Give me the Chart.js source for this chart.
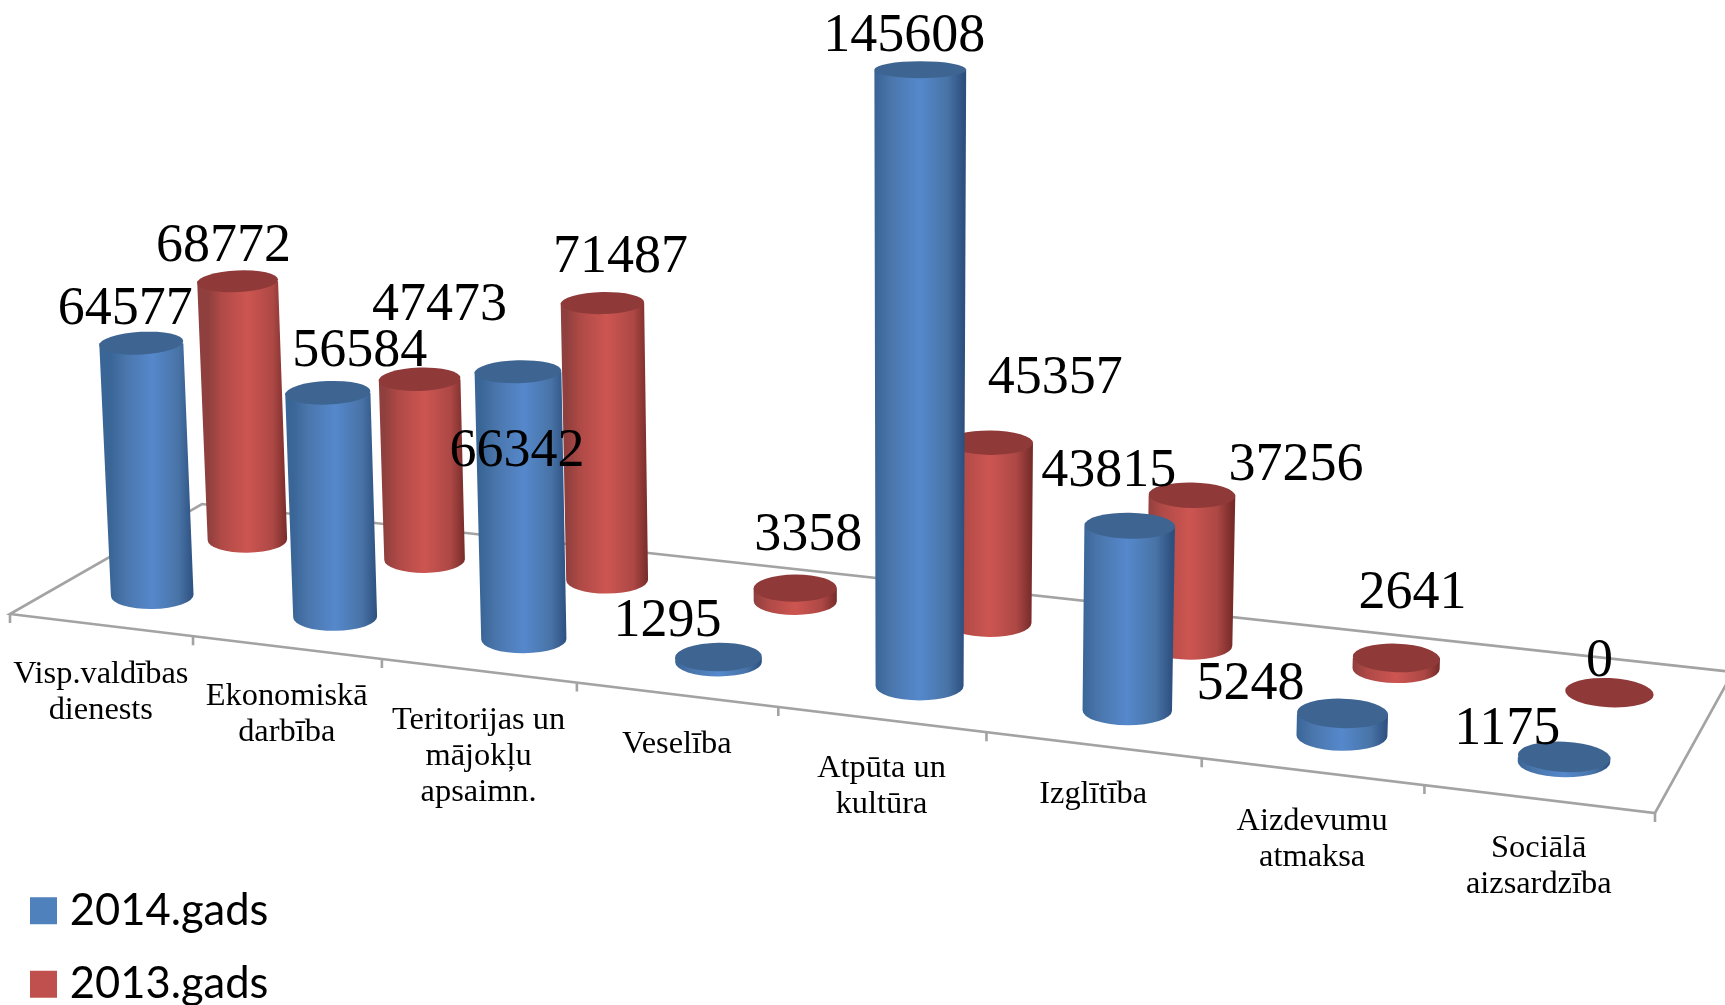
<!DOCTYPE html>
<html>
<head>
<meta charset="utf-8">
<title>Budžets</title>
<script src="https://cdn.jsdelivr.net/npm/chart.js@4"></script>
<style>
  html, body { margin: 0; padding: 0; background: #fff; overflow: hidden; }
  canvas { display: block; }
</style>
</head>
<body>
<canvas id="chart" width="1725" height="1005"></canvas>
<script>
// DATA
const categories = [
  ["Visp.valdības", "dienests"],
  ["Ekonomiskā", "darbība"],
  ["Teritorijas un", "mājokļu", "apsaimn."],
  ["Veselība"],
  ["Atpūta un", "kultūra"],
  ["Izglītība"],
  ["Aizdevumu", "atmaksa"],
  ["Sociālā", "aizsardzība"],
];
const values2014 = [64577, 56584, 66342, 1295, 145608, 43815, 5248, 1175];
const values2013 = [68772, 47473, 71487, 3358, 45357, 37256, 2641, 0];

// LOOK OF THE 3D FLOOR AND THE CYLINDERS
const floorCorners = [[10, 614], [1655, 813], [1733, 672], [202, 504]];
const seriesDepth = [0.25, 0.75];
const seriesShift = [2, 4];
const heightSpan = 625;
const vanishX = 900;
const leanPerPx = 5.8e-5;
const legendDrop = 31;
const shades = [
  { edgeL: "#3a6597", softL: "#4a76ac", mid: "#5588cc", softR: "#4873a6", edgeR: "#2d5080", cap: "#3e6592" },
  { edgeL: "#8f3f3d", softL: "#b04a47", mid: "#cd5551", softR: "#ad4845", edgeR: "#772c2a", cap: "#8f3a39" },
];

// HAND PLACED VALUE LABELS, [dx, dy] FROM THE TOP OF EACH CYLINDER
const labelShift = [
  [[-16, -8], [32, -15], [-1, 106], [-51, -7], [-16, -10], [-21, -27], [-92, 0], [-57, 2]],
  [[-14, -9], [20, -48], [18, -20], [13, -25], [65, -37], [104, -2], [16, -36], [-10, -2]],
];

// FLAT CHART SPACE (u, v) TO THE SLANTED FLOOR ON SCREEN
const floor = (() => {
  const [[x0, y0], [x1, y1], [x2, y2], [x3, y3]] = floorCorners;
  const dx1 = x1 - x2, dx2 = x3 - x2, sx = x0 - x1 + x2 - x3;
  const dy1 = y1 - y2, dy2 = y3 - y2, sy = y0 - y1 + y2 - y3;
  const det = dx1 * dy2 - dx2 * dy1;
  const g = (sx * dy2 - dx2 * sy) / det;
  const h = (dx1 * sy - sx * dy1) / det;
  return (u, v) => {
    const w = g * u + h * v + 1;
    return {
      x: ((x1 - x0 + g * x1) * u + (x3 - x0 + h * x3) * v + x0) / w,
      y: ((y1 - y0 + g * y1) * u + (y3 - y0 + h * y3) * v + y0) / w,
      near: 1 / w,
    };
  };
})();

// WORK OUT THE SCREEN SHAPE OF A CYLINDER FROM ITS BAR ELEMENT
function cylinder(chart, el, datasetIndex) {
  const area = chart.chartArea;
  const foot = floor((el.x - area.left) / area.width, seriesDepth[datasetIndex]);
  const flat = ((el.base - el.y) / area.height) * heightSpan * foot.near;
  // TALL BARS COME A LITTLE NEARER THE CAMERA
  const h = flat * (1 + flat * 5e-5);
  const bx = foot.x + seriesShift[datasetIndex];
  const rx = (el.width / 2) * foot.near;
  const ry = rx * 0.33;
  return {
    bx, by: foot.y, rx, ry,
    tx: bx + (bx - vanishX) * h * leanPerPx,
    ty: foot.y - h,
    trx: rx * (1 + h * 7e-5),
    try_: ry * (1 - h * 6.7e-4),
    tilt: ((bx - vanishX) * 0.004 * Math.PI) / 180,
    h,
  };
}

const cylinderPlugin = {
  id: "cylinders",
  // THE LEGEND SITS AT THE BOTTOM OF THE AREA, PUSH IT DOWN TO ITS PLACE
  afterLayout(chart) {
    chart.legend.bottom += legendDrop;
  },
  beforeDatasetsDraw(chart) {
    const ctx = chart.ctx;
    const area = chart.chartArea;
    const cats = chart.data.labels.length;
    ctx.save();
    ctx.strokeStyle = "#a3a3a3";
    ctx.lineWidth = 2.6;
    ctx.beginPath();
    floorCorners.forEach(([x, y], i) => (i ? ctx.lineTo(x, y) : ctx.moveTo(x, y)));
    ctx.closePath();
    ctx.stroke();
    // TICKS AND CATEGORY NAMES ALONG THE FRONT EDGE
    ctx.beginPath();
    for (let i = 0; i <= cats; i++) {
      const p = floor(i / cats, 0);
      ctx.moveTo(p.x, p.y);
      ctx.lineTo(p.x, p.y + 9);
    }
    ctx.stroke();
    ctx.fillStyle = "#000";
    ctx.font = '32.4px "Liberation Serif"';
    ctx.textAlign = "center";
    const xScale = chart.scales.x;
    chart.data.labels.forEach((lines, i) => {
      const u = (xScale.getPixelForValue(i) - area.left) / area.width;
      const p = floor(u, 0);
      lines.forEach((line, n) => ctx.fillText(line, p.x, p.y + 58 + n * 36));
    });
    ctx.restore();
  },
  beforeDatasetDraw(chart, args) {
    const ctx = chart.ctx;
    const look = shades[args.index];
    args.meta.data.forEach((el) => {
      const c = cylinder(chart, el, args.index);
      ctx.save();
      if (c.h > 0.5) {
        const fill = ctx.createLinearGradient(c.bx - c.rx, 0, c.bx + c.rx, 0);
        fill.addColorStop(0, look.edgeL);
        fill.addColorStop(0.18, look.softL);
        fill.addColorStop(0.5, look.mid);
        fill.addColorStop(0.82, look.softR);
        fill.addColorStop(1, look.edgeR);
        ctx.fillStyle = fill;
        ctx.beginPath();
        ctx.ellipse(c.bx, c.by, c.rx, c.ry, c.tilt * 0.3, 0, Math.PI);
        ctx.lineTo(c.tx - c.trx, c.ty);
        ctx.lineTo(c.tx + c.trx, c.ty);
        ctx.closePath();
        ctx.fill();
      }
      ctx.fillStyle = look.cap;
      ctx.beginPath();
      ctx.ellipse(c.tx, c.ty, c.trx, c.try_, c.tilt, 0, Math.PI * 2);
      ctx.fill();
      ctx.restore();
    });
    return false;
  },
  afterDatasetsDraw(chart) {
    const ctx = chart.ctx;
    ctx.save();
    ctx.fillStyle = "#000";
    ctx.font = '54px "Liberation Serif"';
    ctx.textAlign = "center";
    chart.data.datasets.forEach((ds, d) => {
      chart.getDatasetMeta(d).data.forEach((el, i) => {
        const c = cylinder(chart, el, d);
        const [dx, dy] = labelShift[d][i];
        ctx.fillText(String(ds.data[i]), c.tx + dx, c.ty - c.try_ + dy);
      });
    });
    ctx.restore();
  },
};

new Chart(document.getElementById("chart"), {
  type: "bar",
  plugins: [cylinderPlugin],
  data: {
    labels: categories,
    datasets: [
      { label: "2014.gads", data: values2014, backgroundColor: "#4f81bd" },
      { label: "2013.gads", data: values2013, backgroundColor: "#c0504d" },
    ],
  },
  options: {
    responsive: false,
    animation: false,
    grouped: false,
    barPercentage: 0.39,
    categoryPercentage: 1,
    layout: { padding: { left: 9 } },
    scales: {
      x: { display: false },
      y: { display: false, min: 0, max: 160000 },
    },
    plugins: {
      tooltip: { enabled: false },
      legend: {
        position: "chartArea",
        align: "end",
        labels: {
          color: "#000",
          font: { family: "Lato", size: 43.5, lineHeight: 0.84 },
          boxWidth: 9,
          boxHeight: 9,
          padding: 30,
          generateLabels(chart) {
            return Chart.defaults.plugins.legend.labels.generateLabels(chart).map((item) => ({
              ...item,
              strokeStyle: item.fillStyle,
              lineWidth: 18,
            }));
          },
        },
      },
    },
  },
});
</script>
</body>
</html>
